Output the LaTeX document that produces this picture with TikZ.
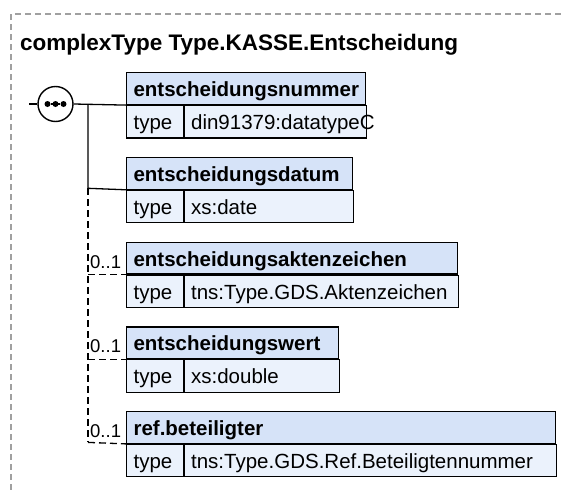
\documentclass[tikz,border=0pt]{standalone}
\usepackage{fontspec}
\setmainfont{Liberation Sans}
\definecolor{hdrcol}{HTML}{D6E3F8}
\definecolor{bdycol}{HTML}{EBF2FC}
\definecolor{framecol}{HTML}{A0A0A0}
\tikzset{
  cellbase/.style={draw=black, line width=1.1pt, anchor=north west, align=left,
    inner xsep=7pt, inner ysep=0pt, text height=16pt, text depth=0pt,
    font=\fontsize{20.5}{24}\selectfont},
  hdrbox/.style={cellbase, fill=hdrcol, minimum height=31.7pt, font=\fontsize{20.5}{24}\selectfont\bfseries},
  bdybox/.style={cellbase, fill=bdycol, minimum height=32.3pt},
  conn/.style={line width=1.3pt, black},
  optconn/.style={conn, dash pattern=on 7pt off 4pt},
  card/.style={anchor=base west, inner sep=0pt, font=\fontsize{18.5}{20}\selectfont},
}
\newcommand{\elembox}[5]{%
  \pgfmathsetmacro\hw{#3-126-14}%
  \pgfmathsetmacro\vw{#3-182.5-14}%
  \node[hdrbox, text width=\hw pt] (#1h) at (126,#2) {#4};
  \node[bdybox, text width=42.5pt] (#1t) at (#1h.south west) {type};
  \node[bdybox, text width=\vw pt] (#1v) at (#1t.north east) {#5};
}
\begin{document}
\begin{tikzpicture}[x=1pt,y=-1pt]
\useasboundingbox (0,0) rectangle (565,490);
% outer frame
\coordinate (fb) at (11,490);
\coordinate (ftl) at (11,14);
\coordinate (fr) at (565,14);
\draw[framecol, line width=1.1pt, dash pattern=on 6pt off 4pt] (fb) -- (ftl) -- (fr);
% title
\node[anchor=base west, inner sep=0pt, font=\fontsize{22.5}{26}\selectfont\bfseries] (title) at (20,50) {complexType Type.KASSE.Entscheidung};
% boxes
\elembox{a}{72.3}{365}{entscheidungsnummer}{din91379:datatypeC}
\elembox{b}{157}{352}{entscheidungsdatum}{xs:date}
\elembox{c}{241.7}{457}{entscheidungsaktenzeichen}{tns:Type.GDS.Aktenzeichen}
\elembox{d}{326.4}{338}{entscheidungswert}{xs:double}
\elembox{e}{411.1}{555}{ref.beteiligter}{tns:Type.GDS.Ref.Beteiligtennummer}
% sequence compositor
\node[draw, circle, line width=1.4pt, fill=white, minimum size=35pt, inner sep=0pt] (seq) at (55.5,104) {};
\coordinate (stub) at (29,104);
\draw[conn] (stub) -- (seq.west);
\node[circle, fill=black, inner sep=0pt, minimum size=6pt] (d1) at (47.5,104) {};
\node[circle, fill=black, inner sep=0pt, minimum size=6pt] (d2) at (55.5,104) {};
\node[circle, fill=black, inner sep=0pt, minimum size=6pt] (d3) at (63.5,104) {};
\draw[conn, line width=1.8pt] (d1) -- (d3);
% connectors
\coordinate (j1) at (88,104);
\coordinate (j2) at (88,188.3);
\coordinate (j5) at (88,442.4);
\draw[conn] (seq.east) -- (ah.south west);
\draw[conn] (j1) -- (j2) -- (bh.south west);
\draw[optconn] (j2) -- (j5);
\draw[optconn] (ch.south west -| j2) -- (ch.south west);
\draw[optconn] (dh.south west -| j2) -- (dh.south west);
\draw[optconn] (j5) -- (eh.south west);
% cardinalities
\node[card] (k1) at (90,268) {0..1};
\node[card] (k2) at (90,352.7) {0..1};
\node[card] (k3) at (90,437.4) {0..1};
\end{tikzpicture}
\end{document}
